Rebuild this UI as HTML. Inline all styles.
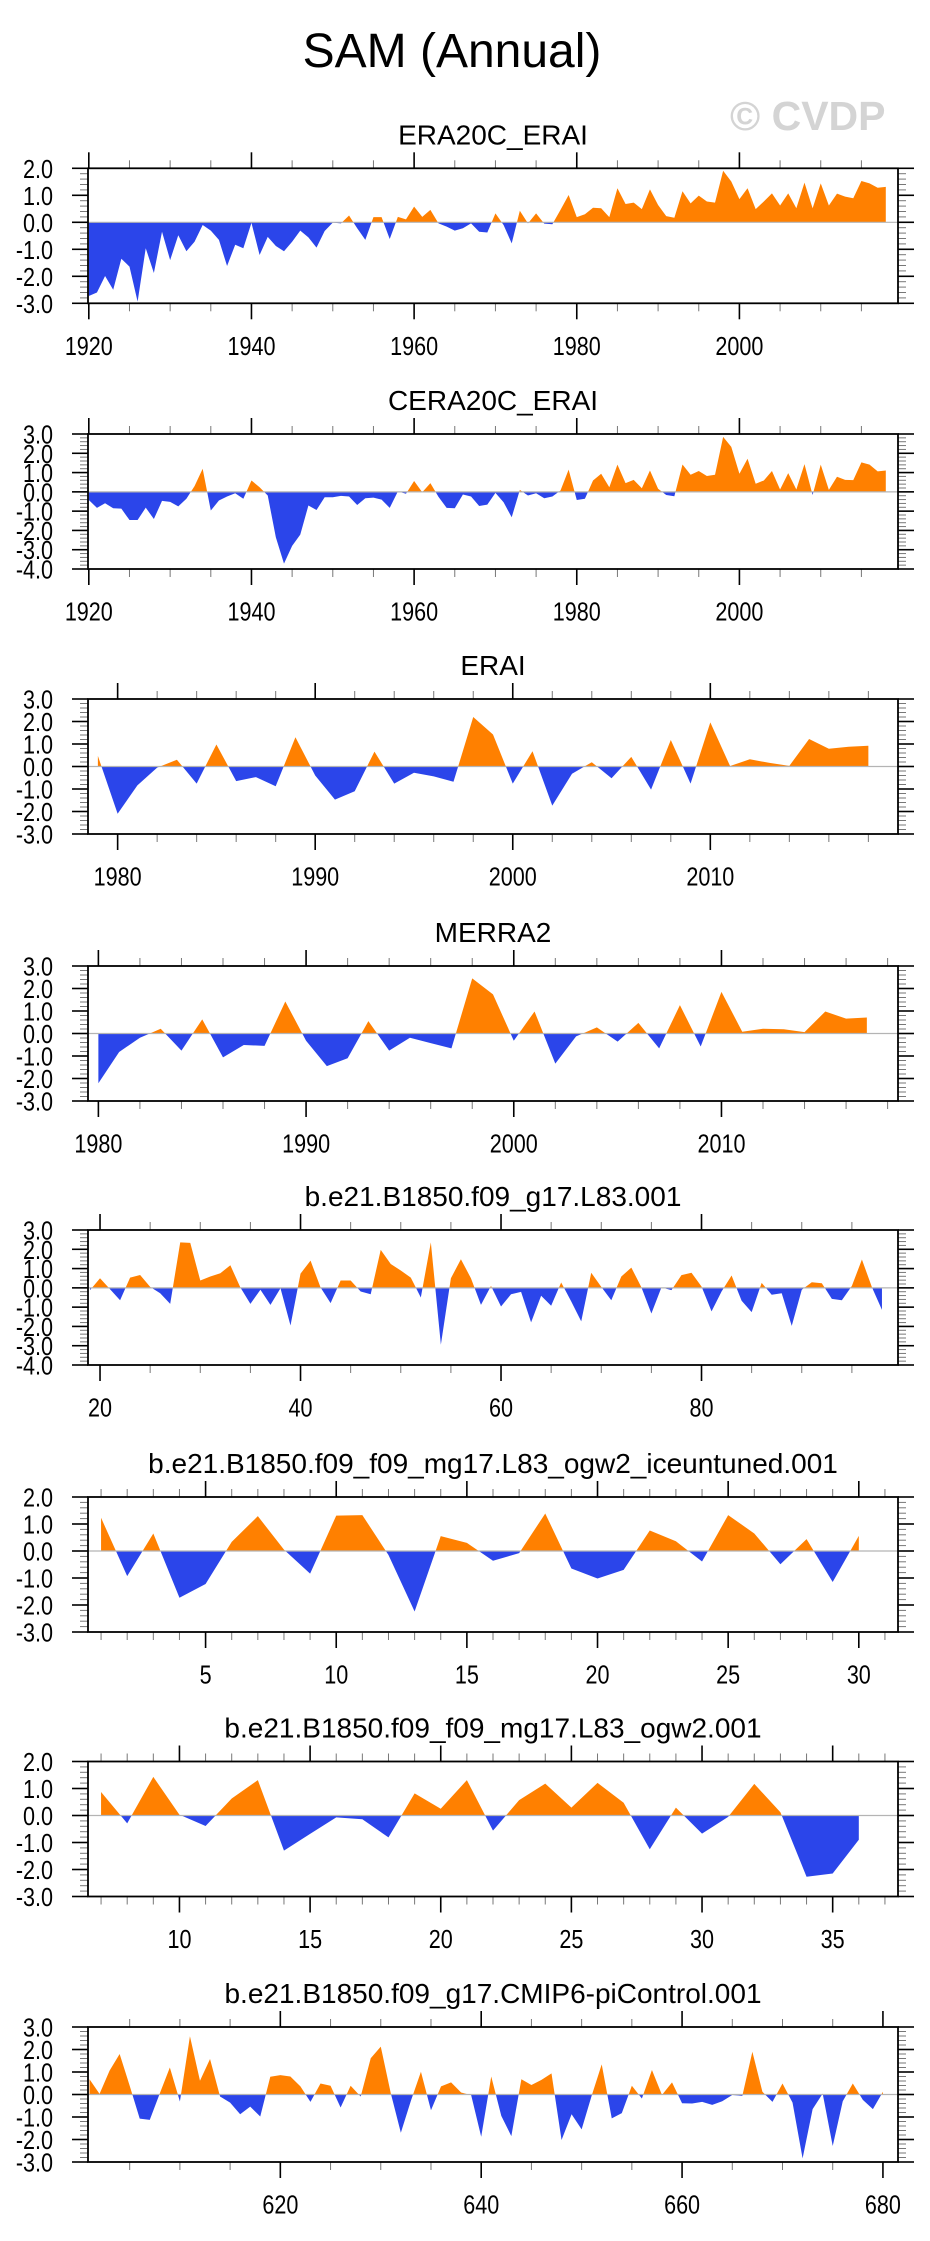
<!DOCTYPE html>
<html>
<head>
<meta charset="utf-8">
<style>
  html,body{margin:0;padding:0;background:#fff;}
  svg{display:block;}
  text{font-family:"Liberation Sans",Arial,sans-serif;fill:#000;}
</style>
</head>
<body>
<svg id="fig" xmlns="http://www.w3.org/2000/svg" width="930" height="2241" viewBox="0 0 930 2241">
  <rect x="0" y="0" width="930" height="2241" fill="#ffffff"/>
  <text x="452" y="67" font-size="48" text-anchor="middle">SAM (Annual)</text>
  <text x="730" y="130" font-size="41" font-weight="bold" fill="#d4d4d4" style="fill:#d4d4d4">© CVDP</text>
</svg>
<script>
// ---- data ----
const era20cStart = 1920;
const era20cValues = [-2.73,-2.6,-1.99,-2.5,-1.35,-1.64,-2.94,-0.96,-1.88,-0.35,
 -1.4,-0.48,-1.07,-0.72,-0.1,-0.31,-0.65,-1.62,-0.83,-0.96,
 -0.02,-1.21,-0.54,-0.88,-1.07,-0.72,-0.31,-0.56,-0.94,-0.32,
 -0.01,-0.04,0.25,-0.22,-0.65,0.19,0.19,-0.62,0.2,0.11,
 0.58,0.2,0.46,-0.04,-0.16,-0.31,-0.22,-0.04,-0.35,-0.38,
 0.33,-0.1,-0.78,0.43,-0.04,0.33,-0.05,-0.07,0.46,1.01,
 0.19,0.3,0.54,0.52,0.19,1.26,0.68,0.73,0.49,1.22,
 0.64,0.23,0.17,1.15,0.7,0.99,0.77,0.73,1.91,1.51,
 0.86,1.26,0.49,0.77,1.07,0.62,1.07,0.52,1.47,0.52,
 1.44,0.62,1.06,0.95,0.89,1.53,1.44,1.28,1.31];
const cera20cStart = 1920;
const cera20cValues = [-0.42,-0.83,-0.59,-0.85,-0.87,-1.46,-1.46,-0.82,-1.41,-0.47,
 -0.52,-0.75,-0.36,0.3,1.2,-0.97,-0.45,-0.24,-0.07,-0.36,
 0.59,0.24,-0.19,-2.36,-3.72,-2.8,-2.22,-0.71,-0.94,-0.28,
 -0.28,-0.21,-0.24,-0.68,-0.33,-0.3,-0.4,-0.83,0.02,-0.1,
 0.56,-0.02,0.45,-0.26,-0.83,-0.85,-0.14,-0.24,-0.73,-0.66,
 -0.05,-0.54,-1.32,0.1,-0.19,-0.07,-0.33,-0.24,0.07,1.15,
 -0.42,-0.36,0.59,0.94,0.24,1.41,0.45,0.62,0.19,1.11,
 0.16,-0.16,-0.23,1.42,0.89,1.08,0.82,0.89,2.85,2.33,
 0.94,1.72,0.42,0.59,1.08,0.12,0.97,0.12,1.44,-0.16,
 1.41,0.1,0.78,0.62,0.61,1.53,1.41,1.06,1.11];
const eraiStart = 1979;
const eraiValues = [0.47,-2.1,-0.84,-0.05,0.3,-0.76,0.98,-0.65,-0.47,-0.88,
 1.3,-0.4,-1.47,-1.1,0.66,-0.76,-0.28,-0.44,-0.68,2.2,
 1.42,-0.76,0.68,-1.74,-0.32,0.19,-0.52,0.43,-1.03,1.18,
 -0.76,1.96,0.02,0.32,0.16,0.03,1.22,0.79,0.88,0.92];
const merra2Start = 1980;
const merra2Values = [-2.21,-0.82,-0.19,0.21,-0.76,0.63,-1.06,-0.51,-0.55,1.42,
 -0.32,-1.45,-1.1,0.55,-0.76,-0.19,-0.43,-0.66,2.45,1.74,
 -0.32,0.98,-1.34,-0.13,0.27,-0.36,0.47,-0.66,1.26,-0.58,
 1.85,0.08,0.21,0.19,0.06,0.98,0.66,0.71];
const l83Start = 19;
const l83Values = [-0.12,0.5,-0.07,-0.64,0.53,0.67,0.05,-0.28,-0.83,2.36,
 2.33,0.38,0.59,0.76,1.17,0.02,-0.83,-0.1,-0.88,-0.02,
 -1.95,0.74,1.41,0.02,-0.79,0.38,0.38,-0.19,-0.33,1.97,
 1.24,0.9,0.53,-0.5,2.36,-2.95,0.5,1.48,0.5,-0.88,
 0.1,-0.97,-0.33,-0.21,-1.79,-0.41,-0.93,0.28,-0.7,-1.74,
 0.78,0.05,-0.64,0.59,1.05,0.03,-1.33,0.02,-0.12,0.66,
 0.78,0.07,-1.22,-0.19,0.64,-0.67,-1.26,0.26,-0.36,-0.28,
 -1.97,-0.1,0.29,0.24,-0.57,-0.64,0.1,1.47,0.03,-1.14];
const iceStart = 1;
const iceValues = [1.23,-0.93,0.65,-1.73,-1.22,0.34,1.29,0.05,-0.84,1.31,
 1.33,-0.15,-2.24,0.55,0.3,-0.36,-0.08,1.39,-0.65,-1.02,
 -0.7,0.76,0.36,-0.39,1.33,0.65,-0.49,0.44,-1.15,0.56];
const ogw2Start = 7;
const ogw2Values = [0.87,-0.29,1.43,0.03,-0.39,0.63,1.31,-1.3,-0.68,-0.07,
 -0.14,-0.81,0.82,0.25,1.31,-0.56,0.57,1.18,0.29,1.21,
 0.47,-1.25,0.29,-0.67,-0.05,1.17,0.12,-2.27,-2.15,-0.9];
const piStart = 601;
const piValues = [0.68,0.03,1.06,1.8,0.39,-1.07,-1.13,0.05,1.2,-0.31,
 2.59,0.61,1.58,-0.09,-0.36,-0.88,-0.54,-0.98,0.79,0.86,
 0.8,0.36,-0.33,0.49,0.39,-0.58,0.39,-0.09,1.61,2.13,
 0.05,-1.7,-0.28,1.01,-0.7,0.36,0.54,0.09,-0.03,-1.88,
 0.8,-0.95,-1.85,0.68,0.42,0.65,0.94,-2.02,-0.88,-1.55,
 -0.05,1.34,-1.06,-0.83,0.39,-0.18,1.09,-0.02,0.54,-0.39,
 -0.4,-0.33,-0.46,-0.3,-0.02,-0.06,1.9,0.12,-0.33,0.49,
 -0.36,-2.84,-0.65,0.04,-2.29,-0.3,0.49,-0.24,-0.65,0.12];

const panelTitles = ["ERA20C_ERAI","CERA20C_ERAI","ERAI","MERRA2","b.e21.B1850.f09_g17.L83.001",
 "b.e21.B1850.f09_f09_mg17.L83_ogw2_iceuntuned.001","b.e21.B1850.f09_f09_mg17.L83_ogw2.001",
 "b.e21.B1850.f09_g17.CMIP6-piControl.001"];
const xMajorTicks = [[1920,1940,1960,1980,2000],[1920,1940,1960,1980,2000],[1980,1990,2000,2010],
 [1980,1990,2000,2010],[20,40,60,80],[5,10,15,20,25,30],[10,15,20,25,30,35],[620,640,660,680]];
const yRanges = [[-3,2],[-4,3],[-3,3],[-3,3],[-4,3],[-3,2],[-3,2],[-3,3]];

// layout (not data)
const L = 88, R = 898, H = 135;
const tops = [168.3,434,699,966,1230,1497,1761.5,2027];
const xDomains = [[1919.9,2019.5],[1919.9,2019.5],[1978.5,2019.5],[1979.5,2018.5],[18.8,99.6],[0.5,31.5],[6.5,37.5],[600.85,681.5]];
const xMinorStep = [5,5,2,2,5,1,1,5];
const series = [[era20cStart,era20cValues],[cera20cStart,cera20cValues],[eraiStart,eraiValues],[merra2Start,merra2Values],
 [l83Start,l83Values],[iceStart,iceValues],[ogw2Start,ogw2Values],[piStart,piValues]];
const panelNames = ["era20c-erai","cera20c-erai","erai","merra2","l83-001","ogw2-iceuntuned","ogw2-001","cmip6-picontrol"];

const NS = "http://www.w3.org/2000/svg";
const svg = document.getElementById("fig");
function mk(tag, attrs, parent){
  const e = document.createElementNS(NS, tag);
  for (const k in attrs) e.setAttribute(k, attrs[k]);
  (parent||svg).appendChild(e);
  return e;
}
function fmt(v){ return v.toFixed(1); }

for (let p = 0; p < 8; p++){
  const top = tops[p], bot = top + H;
  const [x0, x1] = xDomains[p];
  const [y0, y1] = yRanges[p];
  const sx = v => L + (v - x0) / (x1 - x0) * (R - L);
  const sy = v => bot - (v - y0) / (y1 - y0) * (bot - top);
  const g = mk("g", {});
  
  

  const t = mk("text", {x: (L+R)/2, y: top - 24, "font-size": 28, "text-anchor": "middle"}, g);
  t.textContent = panelTitles[p];
  
  

  // clip paths
  const defs = mk("defs", {}, g);
  const zy = sy(0);
  const ca = mk("clipPath", {id: "above" + p}, defs);
  mk("rect", {x: L, y: top, width: R - L, height: zy - top}, ca);
  const cb = mk("clipPath", {id: "below" + p}, defs);
  mk("rect", {x: L, y: zy, width: R - L, height: bot - zy}, cb);

  const [start, vals] = series[p];
  let d = "M" + sx(start).toFixed(2) + "," + zy.toFixed(2);
  vals.forEach((v, i) => { d += " L" + sx(start + i).toFixed(2) + "," + sy(v).toFixed(2); });
  d += " L" + sx(start + vals.length - 1).toFixed(2) + "," + zy.toFixed(2) + " Z";
  const pos = mk("path", {d: d, fill: "#ff8000", "clip-path": "url(#above" + p + ")"}, g);
  
  
  const neg = mk("path", {d: d, fill: "#2b45ea", "clip-path": "url(#below" + p + ")"}, g);
  
  

  const zl = mk("line", {x1: L, x2: R, y1: zy, y2: zy, stroke: "#b4b4b4", "stroke-width": 1.2}, g);
  
  

  // y ticks
  const ya = mk("g", {}, g);
  
  
  for (let k = Math.round(y0*5); k <= Math.round(y1*5); k++){
    const v = k/5, y = sy(v), major = (k % 5 === 0);
    const len = major ? 16 : 8, sw = major ? 1.6 : 1;
    const col = major ? "#000" : "#777";
    mk("line", {x1: L - len, x2: L, y1: y, y2: y, stroke: col, "stroke-width": sw}, ya);
    mk("line", {x1: R, x2: R + len, y1: y, y2: y, stroke: col, "stroke-width": sw}, ya);
    if (major){
      const lab = mk("text", {x: 0, y: 0, "font-size": 26, "text-anchor": "end",
        transform: "translate(53," + (y + 9.5).toFixed(2) + ") scale(0.83,1)"}, ya);
      lab.textContent = fmt(v);
      
      
    }
  }
  // x ticks
  const xa = mk("g", {}, g);
  
  
  const st = xMinorStep[p];
  const majors = xMajorTicks[p];
  const mstep = majors[1] - majors[0];
  for (let v = Math.ceil(x0 / st) * st; v <= x1; v += st){
    const x = sx(v), major = ((v - majors[0]) % mstep === 0);
    const len = major ? 16 : 8, sw = major ? 1.6 : 1;
    const col = major ? "#000" : "#777";
    mk("line", {x1: x, x2: x, y1: top - len, y2: top, stroke: col, "stroke-width": sw}, xa);
    mk("line", {x1: x, x2: x, y1: bot, y2: bot + len, stroke: col, "stroke-width": sw}, xa);
  }
  majors.forEach(v => {
    const lab = mk("text", {x: 0, y: 0, "font-size": 26, "text-anchor": "middle",
      transform: "translate(" + sx(v).toFixed(2) + "," + (bot + 51.5).toFixed(2) + ") scale(0.83,1)"}, xa);
    lab.textContent = String(v);
    
    
  });

  const fr = mk("rect", {x: L, y: top, width: R - L, height: H, fill: "none", stroke: "#000", "stroke-width": 1.8}, g);
  
  
}
</script>
</body>
</html>
